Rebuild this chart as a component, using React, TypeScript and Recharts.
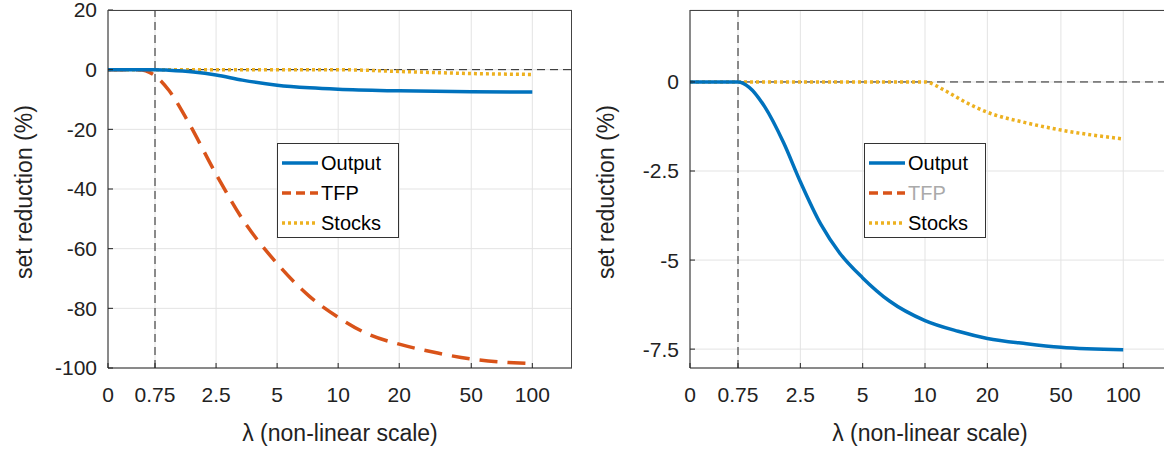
import React from 'react';
import { LineChart, Line, XAxis, YAxis, CartesianGrid, ReferenceLine } from 'recharts';

// x positions on the non-linear axis (index space), tick labels
const TICK_POS = [0, 0.77, 1.77, 2.77, 3.77, 4.77, 5.95, 6.95];
const TICK_LABELS = ['0', '0.75', '2.5', '5', '10', '20', '50', '100'];

const LEFT_OUTPUT = [
  { x: 0, y: 0 }, { x: 0.77, y: 0 }, { x: 1.0, y: -0.2 }, { x: 1.4, y: -0.8 }, { x: 1.77, y: -1.8 },
  { x: 2.2, y: -3.5 }, { x: 2.77, y: -5.2 }, { x: 3.3, y: -6.1 }, { x: 3.77, y: -6.6 },
  { x: 4.77, y: -7.1 }, { x: 5.95, y: -7.4 }, { x: 6.95, y: -7.5 },
];
const LEFT_TFP = [
  { x: 0, y: 0 }, { x: 0.5, y: 0 }, { x: 0.77, y: -2 }, { x: 1.0, y: -7 }, { x: 1.3, y: -17 },
  { x: 1.77, y: -35 }, { x: 2.2, y: -50 }, { x: 2.77, y: -65 }, { x: 3.3, y: -76 }, { x: 3.77, y: -83 },
  { x: 4.3, y: -89 }, { x: 4.77, y: -92 }, { x: 5.4, y: -95 }, { x: 5.95, y: -97 }, { x: 6.95, y: -98.5 },
];
const LEFT_STOCKS = [
  { x: 0, y: 0 }, { x: 3.77, y: 0 }, { x: 4.77, y: -0.6 }, { x: 5.95, y: -1.3 }, { x: 6.95, y: -1.6 },
];
const RIGHT_OUTPUT = [
  { x: 0, y: 0 }, { x: 0.77, y: 0 }, { x: 0.95, y: -0.15 }, { x: 1.2, y: -0.7 }, { x: 1.5, y: -1.7 },
  { x: 1.77, y: -2.8 }, { x: 2.1, y: -4.0 }, { x: 2.4, y: -4.8 }, { x: 2.77, y: -5.5 }, { x: 3.2, y: -6.15 },
  { x: 3.77, y: -6.7 }, { x: 4.3, y: -7.0 }, { x: 4.77, y: -7.2 }, { x: 5.4, y: -7.35 }, { x: 5.95, y: -7.45 },
  { x: 6.95, y: -7.52 },
];
const RIGHT_STOCKS = [
  { x: 0, y: 0 }, { x: 3.77, y: 0 }, { x: 4.1, y: -0.25 }, { x: 4.4, y: -0.55 }, { x: 4.77, y: -0.85 },
  { x: 5.4, y: -1.15 }, { x: 5.95, y: -1.35 }, { x: 6.95, y: -1.6 },
];
const LEFT_Y_TICKS = [20, 0, -20, -40, -60, -80, -100];
const RIGHT_Y_TICKS = [0, -2.5, -5, -7.5];

const BLUE = '#0072BD';
const ORANGE = '#D95319';
const YELLOW = '#EDB120';
const FONT = 'Liberation Sans, Arial, sans-serif';

const tickLabel = (v: number) => {
  const i = TICK_POS.findIndex((p) => Math.abs(p - v) < 0.01);
  return i >= 0 ? TICK_LABELS[i] : '';
};

const Legend = ({ left, greyTfp }: { left: number; greyTfp?: boolean }) => (
  <div style={{ position: 'absolute', left, top: 143, width: 122, height: 95, background: '#fff',
    border: '1px solid #333', fontFamily: FONT, fontSize: 20, boxSizing: 'border-box', padding: '4px 0 0 4px' }}>
    {[
      { n: 'Output', c: BLUE, d: undefined },
      { n: 'TFP', c: ORANGE, d: '9 5' },
      { n: 'Stocks', c: YELLOW, d: '3 3' },
    ].map((s) => (
      <div key={s.n} style={{ display: 'flex', alignItems: 'center', height: 30 }}>
        <svg width={38} height={10}><line x1={0} y1={5} x2={36} y2={5} stroke={s.c} strokeWidth={3.5} strokeDasharray={s.d} /></svg>
        <span style={{ marginLeft: 1, color: greyTfp && s.n === 'TFP' ? '#aaa' : '#000' }}>{s.n}</span>
      </div>
    ))}
  </div>
);

const Panel = ({ width, domain, yTicks, series, xMax }: any) => (
  <LineChart width={width} height={451} margin={{ top: 10, right: 0, left: 0, bottom: 0 }}>
    <CartesianGrid stroke="#e3e3e3" />
    <XAxis dataKey="x" type="number" domain={[0, xMax]} ticks={TICK_POS} tickFormatter={tickLabel}
      interval={0} height={83} stroke="#222" tickSize={-5} tickMargin={24}
      tick={{ fill: '#222', fontSize: 21, fontFamily: FONT }}
      label={{ value: 'λ (non-linear scale)', position: 'insideBottom', offset: 10, fill: '#222', fontSize: 23, fontFamily: FONT }} />
    <YAxis type="number" domain={domain} ticks={yTicks} interval={0} width={108} stroke="#222" tickSize={-5}
      tickMargin={16} allowDataOverflow
      tick={{ fill: '#222', fontSize: 21, fontFamily: FONT }}
      label={{ value: 'set reduction (%)', angle: -90, position: 'insideLeft', offset: 24, dy: 90, fill: '#222', fontSize: 23, fontFamily: FONT }} />
    <ReferenceLine y={0} stroke="#222" strokeDasharray="8 5" />
    <ReferenceLine x={0.77} stroke="#222" strokeDasharray="8 5" />
    {series.map((s: any) => (
      <Line key={s.name} data={s.data} dataKey="y" name={s.name} stroke={s.color} strokeWidth={3.5}
        strokeDasharray={s.dash} dot={false} type="monotone" isAnimationActive={false} />
    ))}
  </LineChart>
);

export default function App() {
  return (
    <div style={{ position: 'absolute', left: 0, top: 0, width: 1164, height: 451, background: '#fff', overflow: 'hidden' }}>
      <div style={{ position: 'absolute', left: 0, top: 0 }}>
        <Panel width={572} xMax={7.6} domain={[-100, 20]} yTicks={LEFT_Y_TICKS}
          series={[
            { name: 'Stocks', data: LEFT_STOCKS, color: YELLOW, dash: '3 3' },
            { name: 'TFP', data: LEFT_TFP, color: ORANGE, dash: '18 10' },
            { name: 'Output', data: LEFT_OUTPUT, color: BLUE },
          ]} />
      </div>
      <div style={{ position: 'absolute', left: 582, top: 0 }}>
        <Panel width={588} xMax={7.7} domain={[-8.03, 2.02]} yTicks={RIGHT_Y_TICKS}
          series={[
            { name: 'Stocks', data: RIGHT_STOCKS, color: YELLOW, dash: '3 3' },
            { name: 'Output', data: RIGHT_OUTPUT, color: BLUE },
          ]} />
      </div>
      <div style={{ position: 'absolute', left: 108, top: 10, width: 464, height: 358, border: '1px solid #444', borderLeft: 'none', borderBottom: 'none', boxSizing: 'border-box', pointerEvents: 'none' }} />
      <div style={{ position: 'absolute', left: 690, top: 10, width: 480, height: 358, borderTop: '1px solid #444', boxSizing: 'border-box', pointerEvents: 'none' }} />
      <Legend left={277} />
      <Legend left={864} greyTfp />
    </div>
  );
}
